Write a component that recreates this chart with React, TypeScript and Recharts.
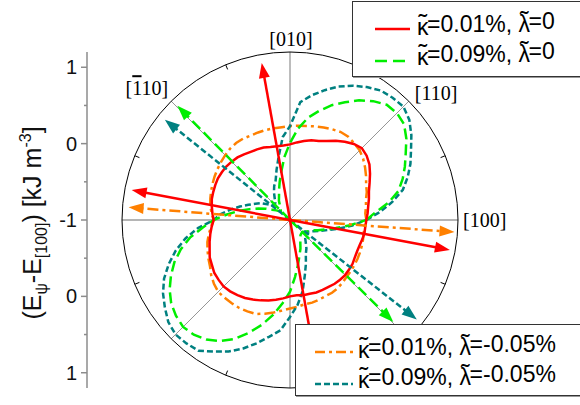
import React from "react";
import {
  RadarChart, Radar, PolarGrid, PolarAngleAxis, PolarRadiusAxis,
  ComposedChart, XAxis, YAxis,
} from "recharts";

// polar angle (deg) of each sample, [100] = 0, counter-clockwise
const angles = [
  0, 5, 10, 15, 20, 25, 30, 35, 40, 45, 50, 55, 60, 65, 70, 75, 80, 85,
  90, 95, 100, 105, 110, 115, 120, 125, 130, 135, 140, 145, 150, 155, 160, 165, 170, 175,
  180, 185, 190, 195, 200, 205, 210, 215, 220, 225, 230, 235, 240, 245, 250, 255, 260, 265,
  270, 275, 280, 285, 290, 295, 300, 305, 310, 315, 320, 325, 330, 335, 340, 345, 350, 355,
];

// E_psi - E_[100] in kJ m^-3
const red = [
  0.00, 0.02, 0.04, 0.07, 0.10, 0.15, 0.21, 0.27, 0.31, 0.33, 0.30, 0.25, 0.20, 0.14, 0.10, 0.08, 0.05, 0.02,
  -0.01, -0.02, -0.02, -0.01, 0.01, 0.02, 0.03, 0.05, 0.07, 0.08, 0.09, 0.09, 0.09, 0.08, 0.07, 0.06, 0.04, 0.02,
  0.00, 0.03, 0.06, 0.09, 0.12, 0.16, 0.18, 0.21, 0.22, 0.23, 0.22, 0.20, 0.18, 0.15, 0.12, 0.09, 0.06, 0.03,
  0.00, -0.01, 0.00, 0.00, 0.01, 0.01, 0.01, 0.02, 0.02, 0.02, 0.01, 0.00, -0.02, -0.03, -0.03, -0.02, -0.01, -0.01,
];
const green = [
  0.00, 0.12, 0.31, 0.47, 0.57, 0.66, 0.75, 0.86, 0.95, 0.98, 0.97, 0.90, 0.81, 0.70, 0.60, 0.48, 0.36, 0.20,
  0.01, -0.17, -0.35, -0.48, -0.58, -0.66, -0.71, -0.77, -0.81, -0.83, -0.82, -0.78, -0.73, -0.65, -0.56, -0.45, -0.32, -0.17,
  0.00, 0.15, 0.33, 0.48, 0.61, 0.72, 0.82, 0.90, 0.95, 0.98, 0.96, 0.91, 0.83, 0.72, 0.57, 0.42, 0.26, 0.09,
  -0.06, -0.25, -0.40, -0.52, -0.60, -0.68, -0.73, -0.76, -0.77, -0.77, -0.76, -0.74, -0.71, -0.68, -0.61, -0.52, -0.39, -0.21,
];
const orange = [
  0.00, -0.01, 0.01, 0.03, 0.07, 0.10, 0.15, 0.20, 0.25, 0.29, 0.31, 0.33, 0.33, 0.31, 0.29, 0.27, 0.25, 0.24,
  0.23, 0.22, 0.22, 0.22, 0.22, 0.22, 0.23, 0.23, 0.22, 0.20, 0.18, 0.16, 0.14, 0.12, 0.10, 0.08, 0.06, 0.03,
  0.00, 0.04, 0.08, 0.12, 0.15, 0.18, 0.21, 0.26, 0.30, 0.33, 0.33, 0.33, 0.33, 0.32, 0.31, 0.27, 0.23, 0.19,
  0.16, 0.14, 0.12, 0.12, 0.11, 0.10, 0.10, 0.09, 0.07, 0.05, 0.04, 0.03, 0.02, 0.01, 0.00, -0.01, -0.02, -0.02,
];
const teal = [
  0.00, 0.18, 0.36, 0.53, 0.64, 0.74, 0.83, 0.94, 1.04, 1.10, 1.09, 1.07, 1.01, 0.94, 0.86, 0.76, 0.66, 0.55,
  0.23, 0.09, -0.15, -0.32, -0.45, -0.51, -0.58, -0.65, -0.70, -0.72, -0.70, -0.64, -0.56, -0.50, -0.42, -0.32, -0.21, -0.09,
  0.00, 0.21, 0.39, 0.55, 0.69, 0.82, 0.92, 1.00, 1.08, 1.12, 1.11, 1.09, 0.99, 0.90, 0.79, 0.67, 0.55, 0.45,
  0.27, 0.12, -0.05, -0.25, -0.39, -0.51, -0.57, -0.64, -0.69, -0.72, -0.73, -0.73, -0.70, -0.65, -0.58, -0.49, -0.35, -0.18,
];

// double arrows: tip angle and tip value (same radial units)
const arrowAngles = [100.2, 280.2, 169.3, 349.4, 175.5, 355.8, 134.6, 315.4, 141.3, 321.9];
const arrowKeys = ["redA", "redA", "redB", "redB", "orangeA", "orangeA", "greenA", "greenA", "tealA", "tealA"];
const arrowTips = [1.09, 1.09, 1.11, 1.13, 1.12, 1.16, 1.10, 0.90, 1.10, 1.11];

const dirAngles = [0, 45, 90, 135];
const dirLabels = ["[100]", "[110]", "[010]", "[-110]"];
const circleTicks = [0, 22.5, 45, 67.5, 90, 112.5, 135, 157.5, 180, 202.5, 225, 247.5, 270, 292.5, 315, 337.5];
const radialDomain = [-1, 1.2];
const yTicks = [-2, -1.5, -1, -0.5, 0, 0.5, 1, 1.5, 2];

const RED = "#ff0000";
const GREEN = "#00ee00";
const ORANGE = "#ff8000";
const TEAL = "#008080";

const W = 580, H = 405, CX = 290, CY = 220, R = 168;

const curveData = angles.map((angle, i) => ({
  angle, red: red[i], green: green[i], orange: orange[i], teal: teal[i],
}));
const arrowData = arrowAngles.map((angle, i) => ({ angle, [arrowKeys[i]]: arrowTips[i] }));

const arrowStyle: Record<string, { color: string; dash?: string }> = {
  redA: { color: RED },
  redB: { color: RED },
  orangeA: { color: ORANGE, dash: "11 4 3 4" },
  greenA: { color: GREEN, dash: "11 5" },
  tealA: { color: TEAL, dash: "6 3" },
};

const arrowShape = (key: string) => (props: any) => {
  const st = arrowStyle[key];
  const pts = (props.points || []).filter((p: any) => p.payload && typeof p.payload[key] === "number");
  return (
    <g>
      {pts.map((p: any, i: number) => {
        const cx = p.cx ?? CX, cy = p.cy ?? CY;
        const dx = p.x - cx, dy = p.y - cy;
        const len = Math.hypot(dx, dy) || 1;
        const ux = dx / len, uy = dy / len;
        const head = 15, hw = 5.5;
        const bx = p.x - ux * head, by = p.y - uy * head;
        return (
          <g key={i}>
            <line x1={cx} y1={cy} x2={bx + ux * 2} y2={by + uy * 2} stroke={st.color} strokeWidth={2.5} strokeDasharray={st.dash} />
            <polygon
              points={`${p.x},${p.y} ${bx - uy * hw},${by + ux * hw} ${bx + uy * hw},${by - ux * hw}`}
              fill={st.color}
            />
          </g>
        );
      })}
    </g>
  );
};

const AngleTick = (props: any) => {
  const { payload } = props;
  const a = Number(payload.value);
  const rad = (a * Math.PI) / 180;
  const cx = props.cx ?? CX, cy = props.cy ?? CY, r = props.radius ?? R;
  const px = cx + r * Math.cos(rad), py = cy - r * Math.sin(rad);
  const idx = dirAngles.indexOf(a);
  if (idx < 0) {
    if (a % 45 === 0) return <g />;
    return <line x1={px} y1={py} x2={px - 5 * Math.cos(rad)} y2={py + 5 * Math.sin(rad)} stroke="#000" strokeWidth={1} />;
  }
  const pos = [
    { dx: 5, dy: 7, anchor: "start" },
    { dx: 6, dy: -1, anchor: "start" },
    { dx: 1, dy: -6, anchor: "middle" },
    { dx: -3, dy: -6, anchor: "end" },
  ][idx];
  const label = dirLabels[idx];
  const bar = label.startsWith("[-");
  return (
    <text x={px + pos.dx} y={py + pos.dy} textAnchor={pos.anchor as any} fontFamily="Liberation Serif" fontSize={20} fill="#000">
      {bar ? (
        <>
          [<tspan textDecoration="overline">{label.slice(2, 3)}</tspan>{label.slice(3)}
        </>
      ) : label}
    </text>
  );
};

const YTick = (props: any) => {
  const { x, y, payload } = props;
  const v = Number(payload.value);
  const major = Number.isInteger(v);
  const axisX = x + 10;
  return (
    <g>
      <line x1={axisX - (major ? 6 : 3)} y1={y} x2={axisX} y2={y} stroke="#8c8c8c" strokeWidth={1.5} />
      {major && (
        <text x={x} y={y + 7} textAnchor="end" fontFamily="Liberation Sans" fontSize={20} fill="#111">
          {Math.abs(v) - 1}
        </text>
      )}
    </g>
  );
};

const AxisTitle = (props: any) => {
  const vb = props.viewBox || { x: 0, y: 52, width: 87, height: 336 };
  const tx = vb.x + 41;
  const ty = vb.y + vb.height / 2 + 3;
  return (
    <text transform={`translate(${tx},${ty}) rotate(-90)`} textAnchor="middle" fontFamily="Liberation Sans" fontSize={25} fill="#111">
      (E<tspan dy={6} fontSize={16}>ψ</tspan>
      <tspan dy={-6}>-E</tspan>
      <tspan dy={6} fontSize={16}>[100]</tspan>
      <tspan dy={-6}>) [kJ m</tspan>
      <tspan dy={-10} fontSize={16}>-3</tspan>
      <tspan dy={10}>]</tspan>
    </text>
  );
};

const topLegend = [
  { kappa: "0.01%", lambda: "0", color: RED, dash: undefined as string | undefined },
  { kappa: "0.09%", lambda: "0", color: GREEN, dash: "12 6" },
];
const bottomLegend = [
  { kappa: "0.01%", lambda: "-0.05%", color: ORANGE, dash: "10 4 3 4" },
  { kappa: "0.09%", lambda: "-0.05%", color: TEAL, dash: "6 3" },
];

// Greek letter with a tilde placed over it
const Tilded = ({ ch }: { ch: string }) => (
  <>
    <tspan>{ch}</tspan>
    <tspan dx={-10.1} dy={-3} fontSize={26}>˜</tspan>
    <tspan dx={1.4} dy={3} fontSize={23}>{""}</tspan>
  </>
);

function LegendBox({ left, top, height, items, x1, x2, tx }: any) {
  return (
    <div
      style={{
        position: "absolute", left, top, width: 300, height,
        border: "1px solid #333", background: "#fff", boxShadow: "1px 1px 0 #999",
      }}
    >
      <svg width={300} height={height} style={{ overflow: "visible" }}>
        {items.map((it: any, i: number) => (
          <g key={i}>
            <line x1={x1} y1={27 + 32 * i} x2={x2} y2={27 + 32 * i} stroke={it.color} strokeWidth={2.5} strokeDasharray={it.dash} />
            <text x={tx} y={33 + 30 * i} fontFamily="Liberation Sans" fontSize={23} fill="#000">
              <Tilded ch="κ" />
              <tspan>{`=${it.kappa}, `}</tspan>
              <Tilded ch="λ" />
              <tspan>{`=${it.lambda}`}</tspan>
            </text>
          </g>
        ))}
      </svg>
    </div>
  );
}

export default function App() {
  return (
    <div style={{ position: "absolute", left: 0, top: 0, width: W, height: H, overflow: "hidden", background: "#fff" }}>
      <div style={{ position: "absolute", left: 0, top: 0 }}>
        <RadarChart width={W} height={H} data={curveData} cx={CX} cy={CY} outerRadius={R}
          startAngle={0} endAngle={360} margin={{ top: 0, right: 0, bottom: 0, left: 0 }}>
          <PolarGrid polarAngles={[0, 90, 180, 270]} polarRadius={[]} stroke="#b5b5b5" strokeWidth={1.8} />
          <PolarGrid polarAngles={[45, 135, 225, 315]} polarRadius={[]} stroke="#7a7a7a" strokeWidth={0.8} />
          <PolarAngleAxis dataKey="angle" type="number" domain={[0, 360]} ticks={circleTicks}
            axisLineType="circle" axisLine={{ stroke: "#000", strokeWidth: 1 }}
            tickLine={false} tick={<AngleTick />} />
          <PolarRadiusAxis type="number" domain={radialDomain} allowDataOverflow tick={false} axisLine={false} />
          <Radar dataKey="orange" stroke={ORANGE} strokeWidth={2.5} strokeDasharray="11 4 3 4" fill="none" dot={false} isAnimationActive={false} />
          <Radar dataKey="teal" stroke={TEAL} strokeWidth={2.5} strokeDasharray="6 3" fill="none" dot={false} isAnimationActive={false} />
          <Radar dataKey="green" stroke={GREEN} strokeWidth={2.5} strokeDasharray="11 5" fill="none" dot={false} isAnimationActive={false} />
          <Radar dataKey="red" stroke={RED} strokeWidth={2.5} fill="none" dot={false} isAnimationActive={false} />
        </RadarChart>
      </div>
      <div style={{ position: "absolute", left: 0, top: 0 }}>
        <RadarChart width={W} height={H} data={arrowData} cx={CX} cy={CY} outerRadius={R}
          startAngle={0} endAngle={360} margin={{ top: 0, right: 0, bottom: 0, left: 0 }}>
          <PolarAngleAxis dataKey="angle" type="number" domain={[0, 360]} tick={false} tickLine={false} axisLine={false} />
          <PolarRadiusAxis type="number" domain={radialDomain} allowDataOverflow tick={false} axisLine={false} />
          {["orangeA", "tealA", "greenA", "redA", "redB"].map((k) => (
            <Radar key={k} dataKey={k} shape={arrowShape(k)} dot={false} isAnimationActive={false} />
          ))}
        </RadarChart>
      </div>
      <div style={{ position: "absolute", left: 0, top: 0 }}>
        <ComposedChart width={100} height={H} margin={{ top: 52, right: 0, bottom: 17, left: 0 }}>
          <XAxis hide />
          <YAxis type="number" width={87} domain={[-2.2, 2.2]} ticks={yTicks} interval={0} allowDataOverflow
            axisLine={{ stroke: "#8c8c8c", strokeWidth: 1.5 }} tickLine={false} tickSize={0} tickMargin={10}
            tick={<YTick />} label={<AxisTitle />} />
        </ComposedChart>
      </div>
      <LegendBox left={352} top={1} height={74} items={topLegend} x1={22} x2={57} tx={64} />
      <LegendBox left={295} top={324} height={70} items={bottomLegend} x1={19} x2={57} tx={62} />
    </div>
  );
}
